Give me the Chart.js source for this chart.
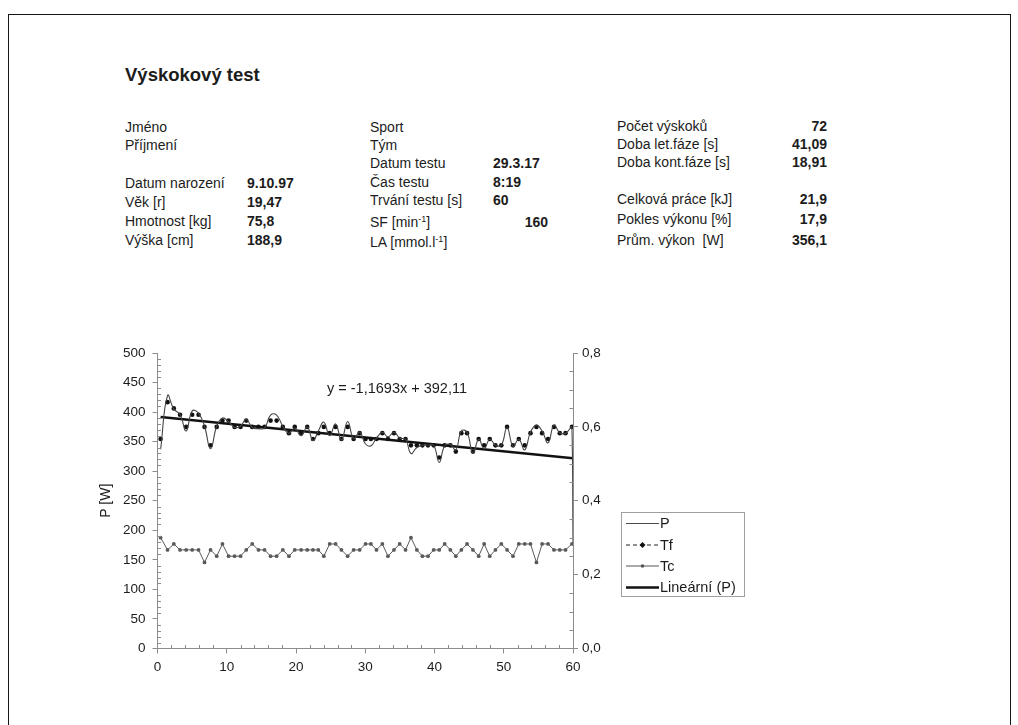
<!DOCTYPE html>
<html>
<head>
<meta charset="utf-8">
<title>Výskokový test</title>
<script src="https://cdn.jsdelivr.net/npm/chart.js@4.4.1/dist/chart.umd.min.js"></script>
<style>
  html, body { margin: 0; padding: 0; background: #fff; }
  body { width: 1018px; height: 725px; position: relative; overflow: hidden;
         font-family: "Liberation Sans", Arial, sans-serif; color: #1c1c1c; }
  .frame { position: absolute; left: 8px; top: 14px; width: 1001px; height: 760px;
           border: 1.5px solid #161616; border-bottom: none; }
  .t { position: absolute; font-size: 14px; line-height: 14px; white-space: nowrap; }
  .b { font-weight: bold; }
  .r { text-align: right; }
  .title { position: absolute; left: 125px; top: 66px; font-size: 18.5px; font-weight: bold;
           line-height: 18.5px; white-space: nowrap; }
  sup { font-size: 9px; line-height: 0; vertical-align: 5px; }
  #chart { position: absolute; left: 0; top: 0; }
  .eq { position: absolute; left: 327px; top: 381px; font-size: 14.5px; line-height: 14.5px; white-space: nowrap; }
  .legend { position: absolute; left: 621px; top: 512px; width: 124px; height: 85px;
            border: 1px solid #a0a0a0; box-sizing: border-box; }
  .legend svg { position: absolute; left: 0; top: 0; }
  .legend .lt { position: absolute; left: 38px; font-size: 14.5px; line-height: 15px; white-space: nowrap; }
</style>
</head>
<body>
<div class="frame"></div>

<div class="title">Výskokový test</div>

<!-- athlete -->
<div class="t" style="left:125px;top:120px">Jméno</div>
<div class="t" style="left:125px;top:138px">Příjmení</div>
<div class="t" style="left:125px;top:176px">Datum narození</div>
<div class="t b" style="left:247px;top:176px">9.10.97</div>
<div class="t" style="left:125px;top:195px">Věk [r]</div>
<div class="t b" style="left:247px;top:195px">19,47</div>
<div class="t" style="left:125px;top:214px">Hmotnost [kg]</div>
<div class="t b" style="left:247px;top:214px">75,8</div>
<div class="t" style="left:125px;top:233px">Výška [cm]</div>
<div class="t b" style="left:247px;top:233px">188,9</div>

<!-- test -->
<div class="t" style="left:370px;top:120px">Sport</div>
<div class="t" style="left:370px;top:138px">Tým</div>
<div class="t" style="left:370px;top:156px">Datum testu</div>
<div class="t b" style="left:493px;top:156px">29.3.17</div>
<div class="t" style="left:370px;top:175px">Čas testu</div>
<div class="t b" style="left:493px;top:175px">8:19</div>
<div class="t" style="left:370px;top:193px">Trvání testu [s]</div>
<div class="t b" style="left:493px;top:193px">60</div>
<div class="t" style="left:370px;top:215px">SF [min<sup>-1</sup>]</div>
<div class="t b r" style="left:488px;width:60px;top:215px">160</div>
<div class="t" style="left:370px;top:235px">LA [mmol.l<sup>-1</sup>]</div>

<!-- results -->
<div class="t" style="left:617px;top:119px">Počet výskoků</div>
<div class="t b r" style="left:747px;width:80px;top:119px">72</div>
<div class="t" style="left:617px;top:137px">Doba let.fáze [s]</div>
<div class="t b r" style="left:747px;width:80px;top:137px">41,09</div>
<div class="t" style="left:617px;top:155px">Doba kont.fáze [s]</div>
<div class="t b r" style="left:747px;width:80px;top:155px">18,91</div>
<div class="t" style="left:617px;top:192px">Celková práce [kJ]</div>
<div class="t b r" style="left:747px;width:80px;top:192px">21,9</div>
<div class="t" style="left:617px;top:212px">Pokles výkonu [%]</div>
<div class="t b r" style="left:747px;width:80px;top:212px">17,9</div>
<div class="t" style="left:617px;top:233px">Prům. výkon&nbsp; [W]</div>
<div class="t b r" style="left:747px;width:80px;top:233px">356,1</div>

<canvas id="chart" width="1018" height="725"></canvas>

<div class="eq" id="eq"></div>

<div class="legend">
  <svg width="124" height="85" viewBox="0 0 124 85">
    <line x1="4" y1="10.5" x2="37" y2="10.5" stroke="#4a4a4a" stroke-width="1"/>
    <line x1="4" y1="32" x2="37" y2="32" stroke="#222" stroke-width="1" stroke-dasharray="4,3"/>
    <path d="M20.5 29 L23.5 32 L20.5 35 L17.5 32 Z" fill="#111"/>
    <line x1="4" y1="53" x2="37" y2="53" stroke="#555" stroke-width="1"/>
    <circle cx="20.5" cy="53" r="1.8" fill="#555"/>
    <line x1="4" y1="74.5" x2="37" y2="74.5" stroke="#111" stroke-width="2.5"/>
  </svg>
  <div class="lt" style="top:3px">P</div>
  <div class="lt" style="top:24.5px">Tf</div>
  <div class="lt" style="top:45.5px">Tc</div>
  <div class="lt" style="top:67px">Lineární (P)</div>
</div>

<script>
// time of each jump within the 60 s test [s]
const jumpTime = [
  0.45, 1.45, 2.36, 3.25, 4.14, 5.01, 5.93, 6.79, 7.66, 8.55,
  9.38, 10.26, 11.13, 11.99, 12.81, 13.68, 14.58, 15.46, 16.33, 17.20,
  18.10, 18.98, 19.82, 20.74, 21.62, 22.45, 23.22, 24.02, 24.86, 25.72,
  26.56, 27.46, 28.32, 29.19, 30.04, 30.82, 31.62, 32.47, 33.28, 34.15,
  34.97, 35.82, 36.60, 37.45, 38.25, 39.06, 39.88, 40.68, 41.47, 42.29,
  43.08, 43.88, 44.70, 45.55, 46.38, 47.17, 47.98, 48.80, 49.65, 50.48,
  51.34, 52.17, 53.03, 53.86, 54.72, 55.54, 56.40, 57.25, 58.09, 58.92,
  59.85, 60.00
];

// power per jump P [W]
const powerW = [
  337, 428, 405, 396, 368, 402, 398, 376, 338, 376,
  390, 384, 374, 376, 388, 374, 372, 373, 395, 395,
  376, 364, 373, 360, 375, 352, 368, 383, 360, 380,
  353, 384, 355, 366, 346, 343, 356, 366, 358, 366,
  356, 354, 330, 340, 344, 344, 344, 315, 343, 345,
  336, 368, 366, 330, 354, 338, 354, 344, 344, 374,
  342, 354, 336, 366, 378, 368, 348, 378, 365, 364,
  374, 180
];

// flight time Tf [s]
const flightS = [
  0.567, 0.667, 0.650, 0.633, 0.600, 0.633, 0.633, 0.600, 0.550, 0.600,
  0.617, 0.617, 0.600, 0.600, 0.617, 0.600, 0.600, 0.600, 0.617, 0.617,
  0.600, 0.583, 0.600, 0.583, 0.600, 0.567, 0.583, 0.600, 0.583, 0.600,
  0.567, 0.600, 0.567, 0.583, 0.567, 0.567, 0.567, 0.583, 0.567, 0.583,
  0.567, 0.567, 0.550, 0.550, 0.550, 0.550, 0.550, 0.517, 0.550, 0.550,
  0.533, 0.583, 0.583, 0.533, 0.567, 0.550, 0.567, 0.550, 0.550, 0.600,
  0.550, 0.567, 0.550, 0.583, 0.600, 0.583, 0.567, 0.600, 0.583, 0.583,
  0.600, null
];

// contact time Tc [s]
const contactS = [
  0.300, 0.267, 0.283, 0.267, 0.267, 0.267, 0.267, 0.233, 0.267, 0.250,
  0.283, 0.250, 0.250, 0.250, 0.267, 0.283, 0.267, 0.267, 0.250, 0.250,
  0.267, 0.250, 0.267, 0.267, 0.267, 0.267, 0.267, 0.250, 0.283, 0.283,
  0.267, 0.250, 0.267, 0.267, 0.283, 0.283, 0.267, 0.283, 0.250, 0.267,
  0.283, 0.267, 0.300, 0.267, 0.250, 0.250, 0.267, 0.267, 0.283, 0.267,
  0.250, 0.267, 0.283, 0.267, 0.250, 0.283, 0.250, 0.267, 0.283, 0.267,
  0.250, 0.283, 0.283, 0.283, 0.233, 0.283, 0.283, 0.267, 0.267, 0.267,
  0.283, null
];

// linear trend of P
const trendSlope = -1.1693;
const trendIntercept = 392.11;

// axis ticks
const xTicks = [0, 10, 20, 30, 40, 50, 60];
const leftTicks = [0, 50, 100, 150, 200, 250, 300, 350, 400, 450, 500];
const rightTicks = [0.0, 0.2, 0.4, 0.6, 0.8];

const czNum = (v, d) => v.toFixed(d).replace('.', ',');
document.getElementById('eq').textContent =
  'y = ' + czNum(trendSlope, 4) + 'x + ' + czNum(trendIntercept, 2);

const pts = (ys) => jumpTime.map((t, i) => ({ x: t, y: ys[i] }));
const firstT = jumpTime[0];
const lastT = jumpTime[jumpTime.length - 1];

const axisGrey = '#8c8c8c';
const textCol = '#1c1c1c';
const tickFont = { family: 'Liberation Sans', size: 13.5 };

// short inner ticks between the labelled ones
const minorTicks = {
  id: 'minorTicks',
  afterDatasetsDraw(chart) {
    const { ctx, chartArea: a, scales } = chart;
    ctx.save();
    ctx.strokeStyle = axisGrey;
    ctx.lineWidth = 1;
    ctx.beginPath();
    for (let k = 1; k < 30; k++) {
      if (k % 5 === 0) continue;
      const px = Math.round(scales.x.getPixelForValue(k * 2)) + 0.5;
      ctx.moveTo(px, a.bottom); ctx.lineTo(px, a.bottom - 3.5);
    }
    for (let k = 1; k < 50; k++) {
      if (k % 5 === 0) continue;
      const py = Math.round(scales.y.getPixelForValue(k * 10)) + 0.5;
      ctx.moveTo(a.left, py); ctx.lineTo(a.left + 3.5, py);
    }
    for (let k = 1; k < 16; k++) {
      if (k % 4 === 0) continue;
      const py = Math.round(scales.y1.getPixelForValue(k * 0.05)) + 0.5;
      ctx.moveTo(a.right, py); ctx.lineTo(a.right - 3.5, py);
    }
    ctx.stroke();
    ctx.restore();
  }
};

Chart.defaults.font.family = 'Liberation Sans';
Chart.defaults.color = textCol;

new Chart(document.getElementById('chart'), {
  type: 'line',
  data: {
    datasets: [
      {
        label: 'Tc',
        data: pts(contactS),
        yAxisID: 'y1',
        borderColor: '#5a5a5a',
        borderWidth: 1,
        pointRadius: 1.9,
        pointBackgroundColor: '#5a5a5a',
        pointBorderWidth: 0,
        tension: 0
      },
      {
        label: 'P',
        data: pts(powerW),
        yAxisID: 'y',
        borderColor: '#454545',
        borderWidth: 1.1,
        pointRadius: 0,
        tension: 0.45
      },
      {
        label: 'Tf',
        data: pts(flightS),
        yAxisID: 'y1',
        showLine: false,
        borderColor: '#111',
        pointRadius: 2.3,
        pointBackgroundColor: '#111',
        pointBorderWidth: 0
      },
      {
        label: 'Lineární (P)',
        data: [
          { x: firstT, y: trendIntercept + trendSlope * firstT },
          { x: lastT, y: trendIntercept + trendSlope * lastT }
        ],
        yAxisID: 'y',
        borderColor: '#111',
        borderWidth: 2.6,
        pointRadius: 0,
        tension: 0
      }
    ]
  },
  options: {
    responsive: false,
    animation: false,
    devicePixelRatio: 1,
    layout: { padding: { left: 95, top: 353, right: 405, bottom: 46.5 } },
    plugins: { legend: { display: false }, tooltip: { enabled: false } },
    scales: {
      x: {
        type: 'linear', min: 0, max: 60,
        afterBuildTicks: (s) => { s.ticks = xTicks.map(v => ({ value: v })); },
        ticks: { font: tickFont, color: textCol, padding: 6, maxRotation: 0 },
        grid: { drawOnChartArea: false, drawTicks: true, tickLength: 5, color: axisGrey },
        border: { color: axisGrey, width: 1 },
        afterFit: (s) => { s.height = 30; }
      },
      y: {
        position: 'left', min: 0, max: 500,
        afterBuildTicks: (s) => { s.ticks = leftTicks.map(v => ({ value: v })); },
        ticks: { font: tickFont, color: textCol, padding: 7 },
        grid: { drawOnChartArea: false, drawTicks: true, tickLength: 5, color: axisGrey },
        border: { color: axisGrey, width: 1 },
        title: { display: true, text: 'P [W]', font: { family: 'Liberation Sans', size: 14 },
                 color: textCol, padding: { top: 3, bottom: 0 } },
        afterFit: (s) => { s.width = 62.5; }
      },
      y1: {
        position: 'right', min: 0, max: 0.8,
        afterBuildTicks: (s) => { s.ticks = rightTicks.map(v => ({ value: v })); },
        ticks: { font: tickFont, color: textCol, padding: 4, callback: (v) => czNum(v, 1) },
        grid: { drawOnChartArea: false, drawTicks: true, tickLength: 5, color: axisGrey },
        border: { color: axisGrey, width: 1 },
        afterFit: (s) => { s.width = 40; }
      }
    }
  },
  plugins: [minorTicks]
});
</script>
</body>
</html>
